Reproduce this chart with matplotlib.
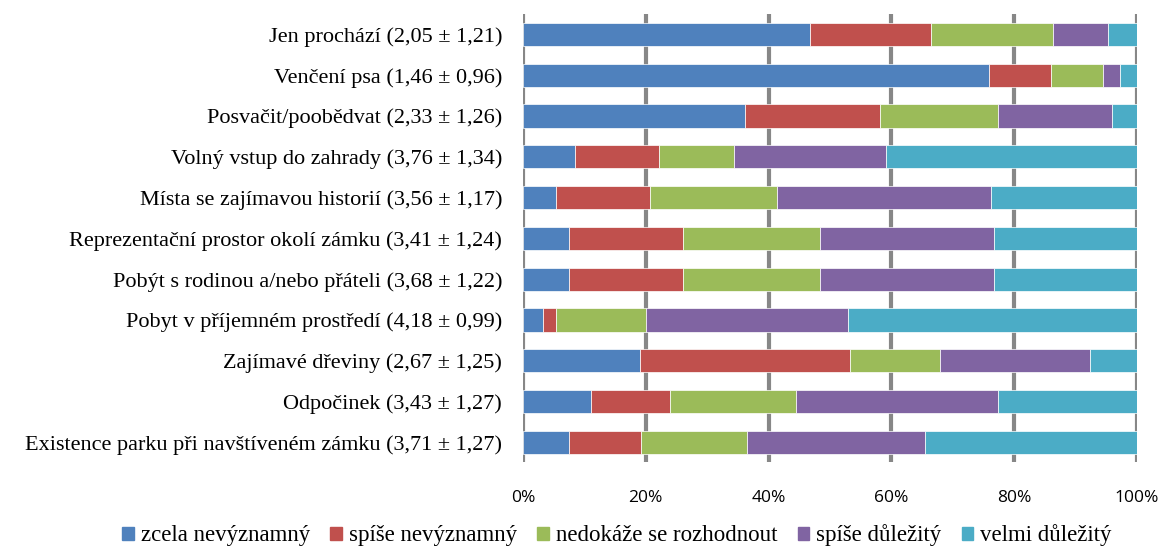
import matplotlib
matplotlib.use('Agg')
import matplotlib.pyplot as plt
import matplotlib.patches as mpatches
import numpy as np

# ── data (percent of respondents, top row first) ─────────────────────────
labels = [
    'Jen prochází (2,05 ± 1,21)',
    'Venčení psa (1,46 ± 0,96)',
    'Posvačit/poobědvat (2,33 ± 1,26)',
    'Volný vstup do zahrady (3,76 ± 1,34)',
    'Místa se zajímavou historií (3,56 ± 1,17)',
    'Reprezentační prostor okolí zámku (3,41 ± 1,24)',
    'Pobýt s rodinou a/nebo přáteli (3,68 ± 1,22)',
    'Pobyt v příjemném prostředí (4,18 ± 0,99)',
    'Zajímavé dřeviny (2,67 ± 1,25)',
    'Odpočinek (3,43 ± 1,27)',
    'Existence parku při navštíveném zámku (3,71 ± 1,27)',
]
series = ['zcela nevýznamný', 'spíše nevýznamný', 'nedokáže se rozhodnout',
          'spíše důležitý', 'velmi důležitý']
zcela_nevyz = [46.8, 75.9, 36.1, 8.5, 5.4, 7.5, 7.5, 3.3, 19.0, 11.0, 7.5]
spise_nevyz = [19.7, 10.1, 22.0, 13.6, 15.3, 18.5, 18.5, 2.1, 34.2, 12.9, 11.8]
nedokaze    = [19.9, 8.5, 19.3, 12.3, 20.7, 22.4, 22.4, 14.6, 14.7, 20.6, 17.2]
spise_dul   = [8.8, 2.7, 18.5, 24.7, 34.8, 28.3, 28.3, 32.9, 24.5, 32.8, 28.9]
velmi_dul   = [4.8, 2.8, 4.1, 40.9, 23.8, 23.3, 23.3, 47.1, 7.6, 22.7, 34.6]
ticks = [0, 20, 40, 60, 80, 100]
tick_labels = ['0%', '20%', '40%', '60%', '80%', '100%']

colors = ['#4F81BD', '#C0504D', '#9BBB59', '#8064A2', '#4BACC6']

# ── figure ───────────────────────────────────────────────────────────────
fig = plt.figure(figsize=(11.64, 5.56), dpi=100)
ax = fig.add_axes([0.4493, 0.169, 0.5275, 0.8058])

y = np.arange(len(labels))[::-1]
vals = np.array([zcela_nevyz, spise_nevyz, nedokaze, spise_dul, velmi_dul])
totals = vals.sum(axis=0)
pct = vals / totals * 100
left = np.zeros(len(labels))
for name, v, c in zip(series, pct, colors):
    ax.barh(y, v, left=left, height=0.57, color=c, edgecolor='white',
            linewidth=0.5, zorder=3, label=name)
    left += v

ax.set_xlim(0, 100)
ax.set_ylim(-0.48, 10.5)
ax.set_yticks(y)
ax.set_yticklabels(labels, fontsize=16, family='Liberation Serif')
ax.set_xticks(ticks)
ax.set_xticklabels(tick_labels, fontsize=12.5, family='Open Sans')
ax.tick_params(axis='y', length=0, pad=15)
ax.tick_params(axis='x', length=0, pad=20)
for s in ax.spines.values():
    s.set_visible(False)
for t in ticks:
    ax.axvline(t, color='#878787', linewidth=3, zorder=1)

handles = [mpatches.Patch(color=c, label=n) for n, c in zip(series, colors)]
fig.legend(handles=handles, loc='lower center', bbox_to_anchor=(0.53, -0.02),
           ncol=5, frameon=False, handlelength=0.5, handleheight=0.5,
           handletextpad=0.3, columnspacing=0.9,
           prop={'family': 'Liberation Serif', 'size': 16.5})

fig.savefig('out.png', dpi=100)
